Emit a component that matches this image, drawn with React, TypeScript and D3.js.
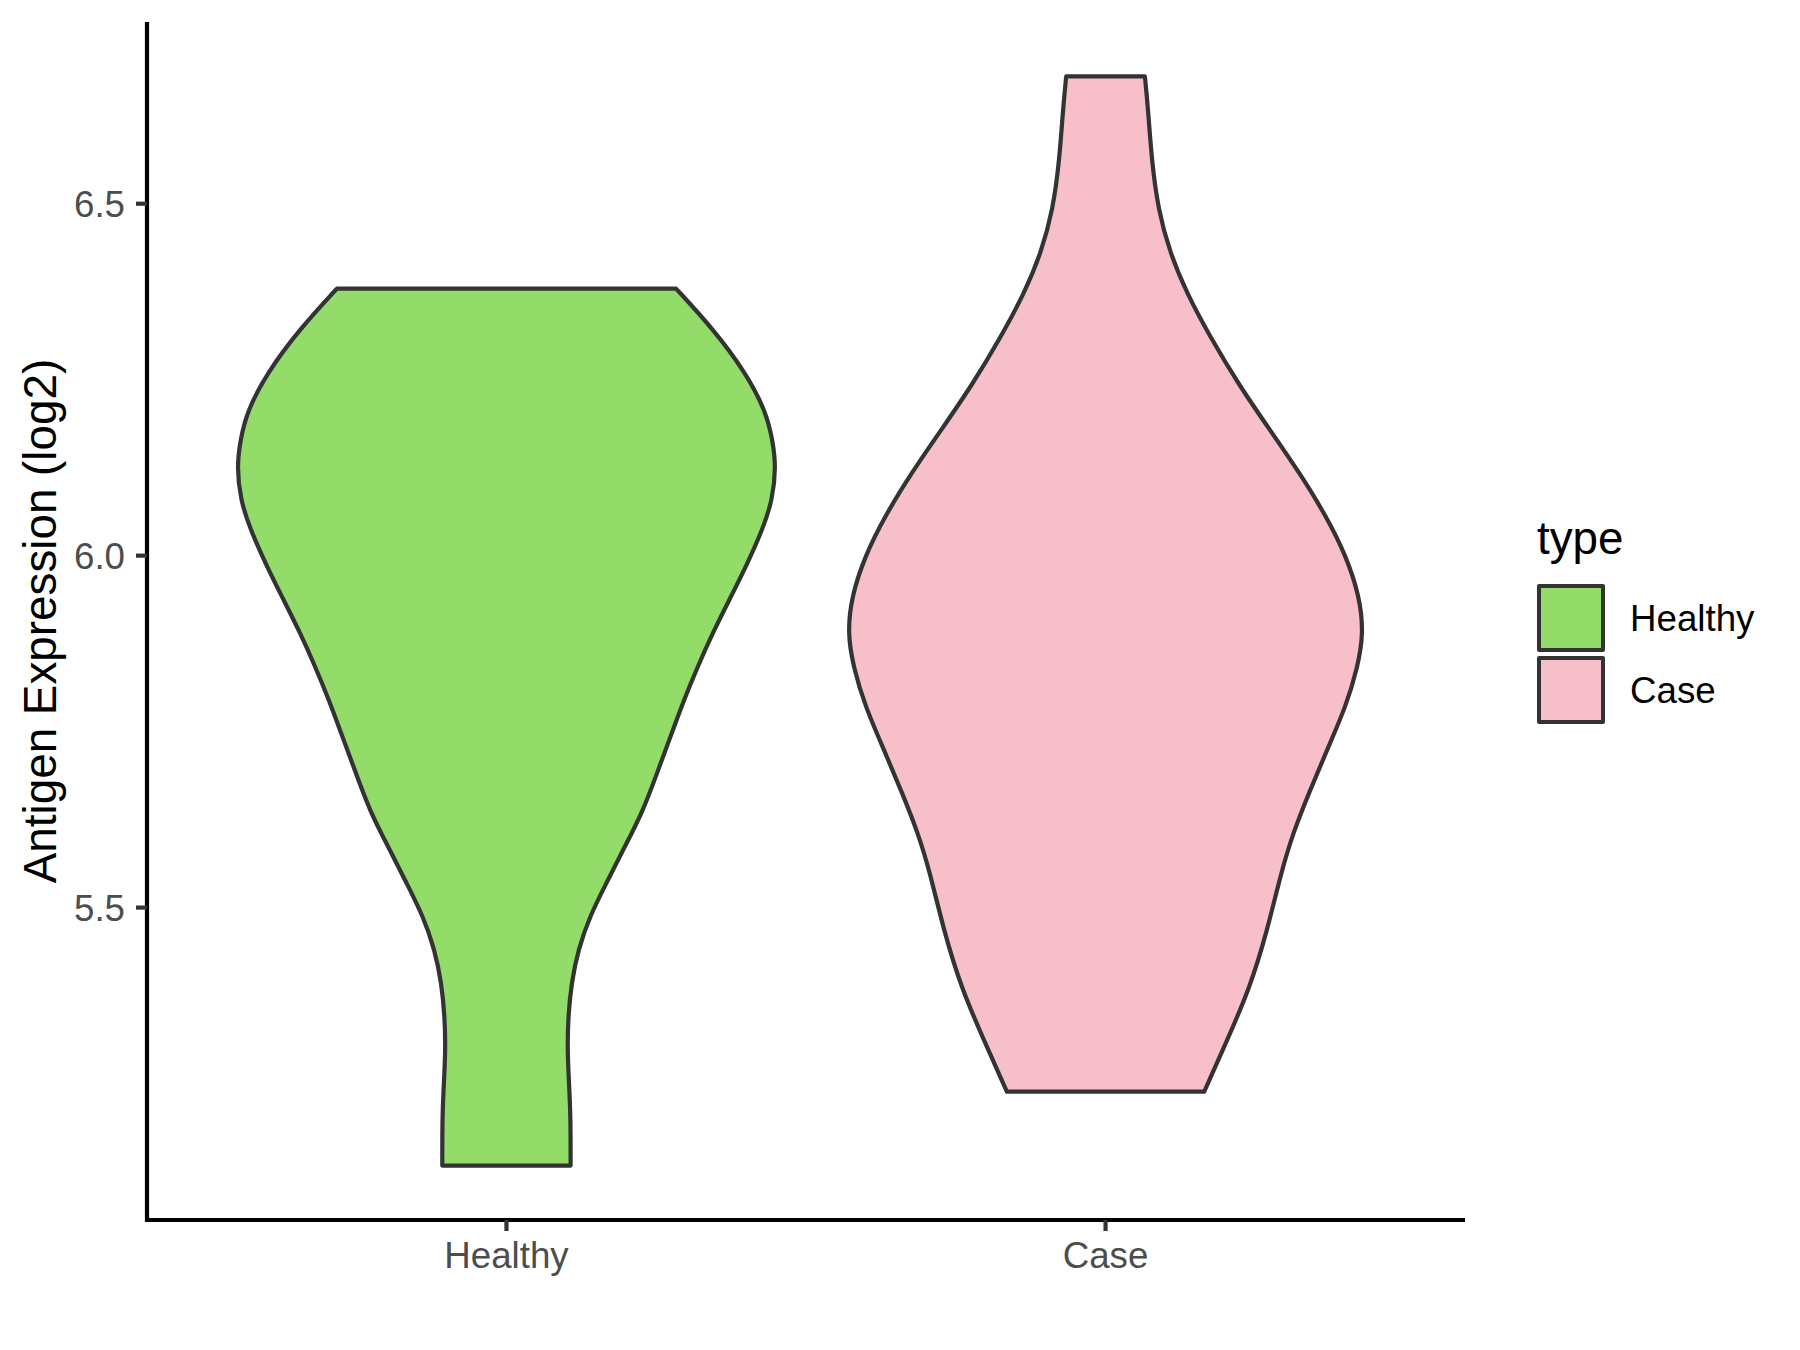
import React from "react";
import * as d3 from "d3";

const categories = ["Healthy", "Case"];
const fillColors = ["#93DC6A", "#F7BFCA"];
const yTicks = [5.5, 6.0, 6.5];
const yTitle = "Antigen Expression (log2)";
const legendTitle = "type";

// violin outlines: expression value (top to bottom) and relative density width
const healthyValues = [6.3794, 6.3224, 6.2599, 6.2053, 6.1648, 6.1268, 6.0795, 6.0369, 5.9848, 5.9375, 5.8902, 5.8428, 5.7955, 5.7486, 5.7074, 5.6364, 5.5824, 5.5351, 5.4876, 5.4403, 5.393, 5.3456, 5.2983, 5.251, 5.2036, 5.1335];
const healthyWidths = [0.629, 0.766, 0.888, 0.962, 0.987, 1.0, 0.987, 0.95, 0.889, 0.827, 0.765, 0.71, 0.659, 0.614, 0.574, 0.507, 0.433, 0.371, 0.309, 0.266, 0.241, 0.229, 0.226, 0.232, 0.238, 0.238];
const caseValues = [6.6808, 6.6335, 6.5625, 6.4915, 6.43, 6.3732, 6.3115, 6.2405, 6.179, 6.1175, 6.0558, 5.999, 5.9422, 5.8902, 5.8428, 5.7859, 5.7244, 5.6634, 5.6065, 5.5497, 5.4688, 5.3854, 5.3089, 5.2386];
const caseWidths = [0.146, 0.158, 0.171, 0.195, 0.239, 0.301, 0.387, 0.498, 0.609, 0.72, 0.819, 0.893, 0.942, 0.957, 0.936, 0.892, 0.822, 0.755, 0.696, 0.651, 0.601, 0.535, 0.448, 0.366];

const FONT = "'Liberation Sans', Arial, Helvetica, sans-serif";

export default function App() {
  const W = 1800, H = 1350;
  const left = 147, right = 1465, top = 22, bottom = 1220;

  const series = [
    { name: categories[0], values: healthyValues, widths: healthyWidths, fill: fillColors[0] },
    { name: categories[1], values: caseValues, widths: caseWidths, fill: fillColors[1] },
  ];

  const allVals = [...healthyValues, ...caseValues];
  const [mn, mx] = d3.extent(allVals) as [number, number];
  const pad = (mx - mn) * 0.05;
  const y = d3.scaleLinear().domain([mn - pad, mx + pad]).range([bottom, top]);
  const x = d3.scalePoint<string>().domain(categories).range([left, right]).padding(0.6);
  const step = x.step();
  const maxW = d3.max([...healthyWidths, ...caseWidths]) as number;

  const tickLen = 11;
  const axisColor = "#000000";
  const tickColor = "#333333";
  const tickTextColor = "#4D4D4D";

  const legX = 1537, legTitleY = 554;
  const keyY0 = 584, keySize = 68, keyGap = 72;

  return (
    <svg width={W} height={H} style={{ position: "absolute", left: 0, top: 0, background: "#fff" }} fontFamily={FONT}>
      <rect x={0} y={0} width={W} height={H} fill="#fff" />
      {series.map((s) => {
        const cx = x(s.name) as number;
        const pts = s.values.map((v, i) => ({ v, w: (s.widths[i] / maxW) * 0.45 * step }));
        const area = d3
          .area<{ v: number; w: number }>()
          .y((d) => y(d.v))
          .x0((d) => cx - d.w)
          .x1((d) => cx + d.w)
          .curve(d3.curveBasis);
        return (
          <path key={s.name} d={area(pts) || ""} fill={s.fill} stroke="#333333" strokeWidth={4.2} strokeLinejoin="round" />
        );
      })}

      {/* y axis */}
      <line x1={left} x2={left} y1={top} y2={bottom + 2} stroke={axisColor} strokeWidth={4.2} />
      {yTicks.map((t) => (
        <g key={t}>
          <line x1={left - tickLen} x2={left} y1={y(t)} y2={y(t)} stroke={tickColor} strokeWidth={4.2} />
          <text x={left - 22} y={y(t) + 13} textAnchor="end" fontSize={36.7} fill={tickTextColor}>
            {d3.format(".1f")(t)}
          </text>
        </g>
      ))}
      {/* x axis */}
      <line x1={left - 2} x2={right} y1={bottom} y2={bottom} stroke={axisColor} strokeWidth={4.2} />
      {categories.map((c) => (
        <g key={c}>
          <line x1={x(c)} x2={x(c)} y1={bottom} y2={bottom + tickLen} stroke={tickColor} strokeWidth={4.2} />
          <text x={x(c)} y={bottom + 48} textAnchor="middle" fontSize={36.7} fill={tickTextColor}>
            {c}
          </text>
        </g>
      ))}
      {/* y title */}
      <text transform={`translate(55.5,${(top + bottom) / 2}) rotate(-90)`} textAnchor="middle" fontSize={45.8} fill="#000">
        {yTitle}
      </text>

      {/* legend */}
      <text x={legX} y={legTitleY} fontSize={45.8} fill="#000">
        {legendTitle}
      </text>
      {series.map((s, i) => (
        <g key={s.name}>
          <rect
            x={legX + 2}
            y={keyY0 + 2 + i * keyGap}
            width={keySize - 4}
            height={keySize - 4}
            fill={s.fill}
            stroke="#333333"
            strokeWidth={4}
            strokeLinejoin="round"
          />
          <text x={1630} y={keyY0 + i * keyGap + 47} fontSize={36.7} fill="#000">
            {s.name}
          </text>
        </g>
      ))}
    </svg>
  );
}
